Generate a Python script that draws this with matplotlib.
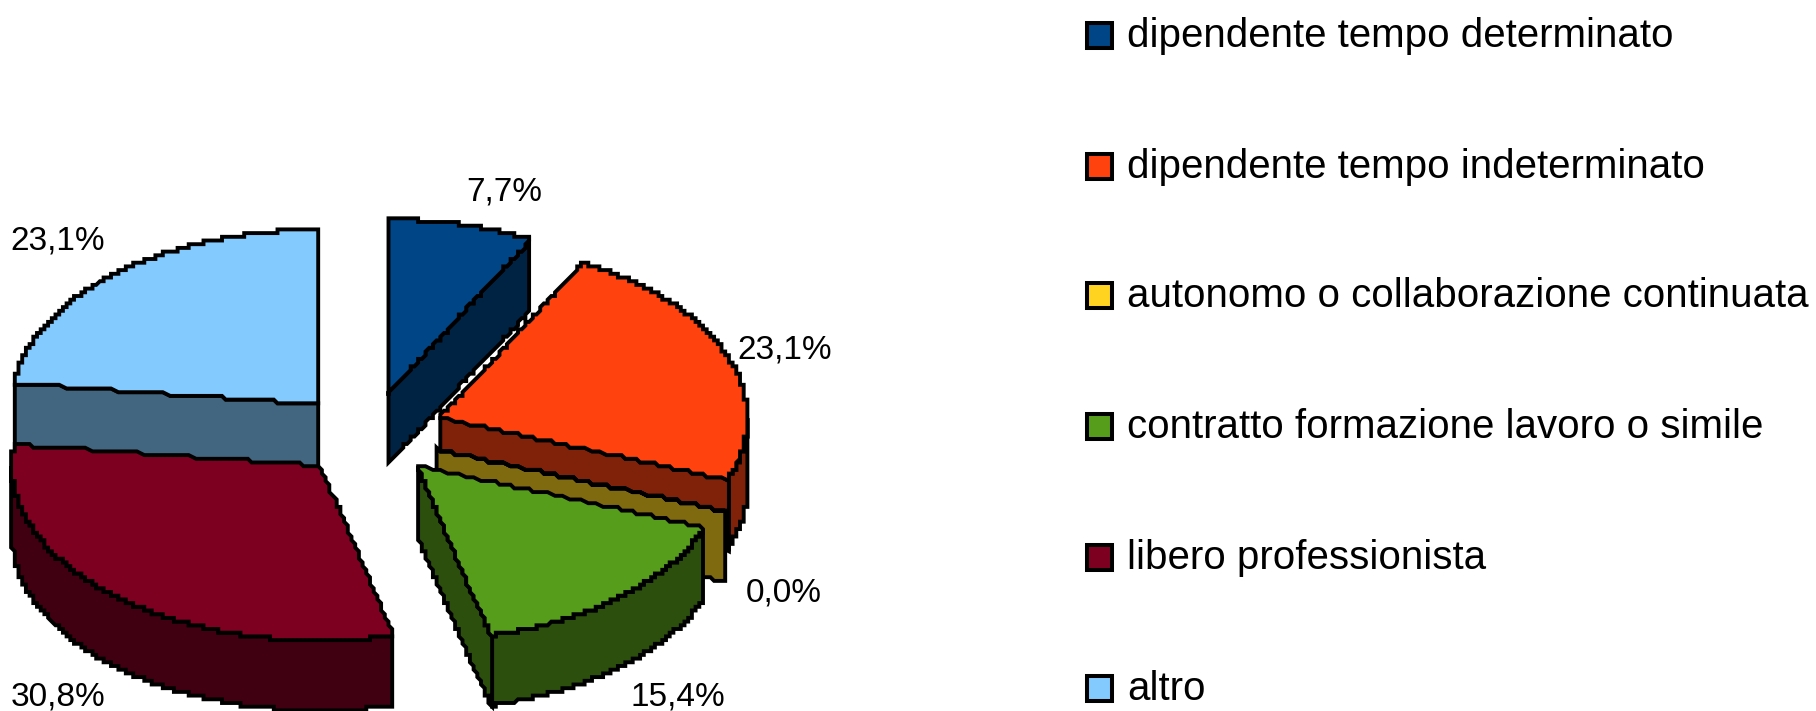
#!/usr/bin/env python
#encoding:utf-8

import matplotlib
matplotlib.use('Agg')
import matplotlib.pyplot as plt
from matplotlib.patches import Polygon, Rectangle
import numpy as np

categories = ['dipendente tempo determinato', 'dipendente tempo indeterminato',
              'autonomo o collaborazione continuata', 'contratto formazione lavoro o simile',
              'libero professionista', 'altro']
percent = [7.7, 23.1, 0.0, 15.4, 30.8, 23.1]

colors = ['#004586', '#ff420e', '#ffd320', '#579d1c', '#7e0021', '#83caff']
dark_colors = ['#002343', '#80210a', '#806a10', '#2c4f0e', '#400011', '#426580']
draw_order = [0, 5, 4, 1, 2, 3]
label_xy = [(504, 192), (785, 350), (784, 593), (678, 697), (58, 697), (58, 241)]
legend_y = [35, 166, 295, 426, 557, 688]
# small shift of each slice, the bitmap is not quite regular
nudge = [(2, 2), (3, 0), (0, 2), (0, 2), (0, 2), (0, 3)]

cx, cy = 368.3, 432.5
rx, ry = 308., 175.
explode = 0.237
depth = 70.
pix = 3.7


def rim(theta, ox, oy):
    # theta in radians, clockwise from 12 o'clock
    return np.c_[ox + rx*np.sin(theta), oy - ry*np.cos(theta)]


def steps(pts):
    # the original is a low resolution bitmap: snap outlines on its pixels
    pts = np.asarray(pts)
    dense = [np.linspace(pts[i], pts[(i+1) % len(pts)], 60) for i in range(len(pts))]
    return np.round(np.vstack(dense)/pix)*pix


def face(ax, pts, color, z):
    ax.add_patch(Polygon(steps(pts), closed=True, fc=color, ec='black', lw=2.8,
                         joinstyle='miter', zorder=z))


def slice3d(ax, t0, t1, color, dark, z, shift):
    mid = 0.5*(t0 + t1)
    ox = cx + explode*rx*np.sin(mid) + shift[0]
    oy = cy - explode*ry*np.cos(mid) + shift[1]
    apex = np.array([[ox, oy]])
    down = np.array([0, depth])

    # outer wall, only the front half of the rim
    a, b = max(t0, np.pi/2), min(t1, 1.5*np.pi)
    if b > a:
        arc = rim(np.linspace(a, b, 40), ox, oy)
        face(ax, np.vstack([arc, arc[::-1] + down]), dark, z)
    # cut faces turned to the viewer
    if np.sin(t0) < -1e-6:
        p = rim(np.array([t0]), ox, oy)
        face(ax, np.vstack([apex, p, p + down, apex + down]), dark, z + 0.1)
    if np.sin(t1) > 1e-6:
        p = rim(np.array([t1]), ox, oy)
        face(ax, np.vstack([apex, p, p + down, apex + down]), dark, z + 0.1)
    # top
    arc = rim(np.linspace(t0, t1, 60), ox, oy)
    face(ax, np.vstack([apex, arc]), color, z + 0.2)


def main():
    fig = plt.figure(figsize=(18.16, 7.11), dpi=100)
    ax = fig.add_axes([0, 0, 1, 1])
    ax.set_xlim(0, 1816)
    ax.set_ylim(711, 0)
    ax.axis('off')

    vals = np.array(percent)
    edges = np.r_[0, np.cumsum(vals)]/vals.sum()*2*np.pi
    for n, i in enumerate(draw_order):
        slice3d(ax, edges[i], edges[i+1], colors[i], dark_colors[i], n + 1, nudge[i])

    for i, (x, y) in enumerate(label_xy):
        txt = ('%.1f%%' % percent[i]).replace('.', ',')
        ax.text(x, y, txt, ha='center', va='center', fontsize=24, zorder=20,
                family='Liberation Sans')

    for i, name in enumerate(categories):
        ax.add_patch(Rectangle((1087, legend_y[i]-12), 25, 25, fc=colors[i], ec='black',
                               lw=2.9, joinstyle='miter', zorder=20))
        ax.text(1127, legend_y[i] + 1, name, ha='left', va='center', fontsize=29,
                family='Liberation Sans', zorder=20)

    fig.savefig('out.png', dpi=100)


if __name__ == '__main__':
    main()
